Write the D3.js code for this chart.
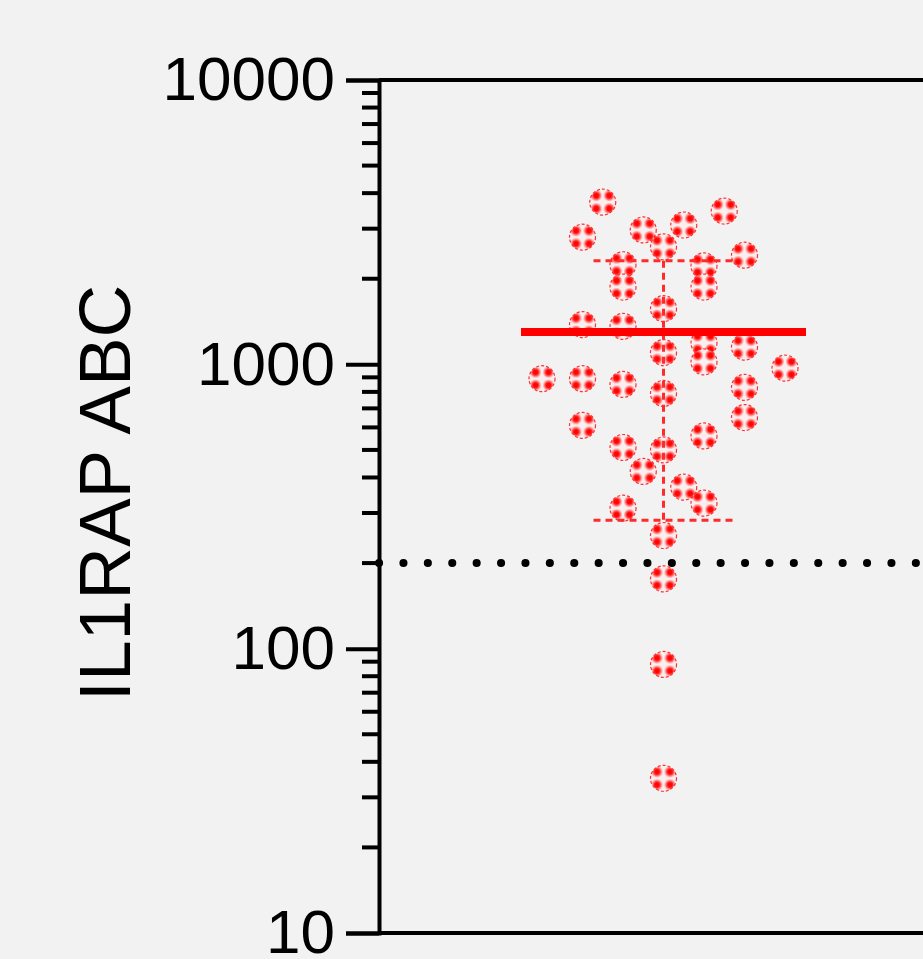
<!DOCTYPE html>
<html>
<head>
<meta charset="utf-8">
<script src="https://cdn.jsdelivr.net/npm/d3@7"></script>
<style>
  html, body { margin: 0; padding: 0; background: #f2f2f2; overflow: hidden; }
  text { font-family: "Liberation Sans", Arial, sans-serif; }
</style>
</head>
<body>
<svg id="chart"></svg>
<script>
// data
var groups = ["IL1RAP ABC"];
var values = [3720, 3460, 2800, 2970, 3090, 2590, 2420, 2240, 2220, 1870,
              1870, 1570, 1380, 1360, 1100, 1190, 1020, 1150, 970, 890,
              890, 850, 790, 830, 650, 610, 560, 510, 500, 420,
              370, 325, 312, 250, 176, 88, 35];
// horizontal scatter slot of each point (half-column units)
var jitter = [-3, 3, -4, -1, 1, 0, 4, -2, 2, -2,
              2, 0, -4, -2, 0, 2, 2, 4, 6, -6,
              -4, -2, 0, 4, 4, -4, 2, -2, 0, -1,
              1, 2, -2, 0, 0, 0, 0];
var tickValues = [10, 100, 1000, 10000];
var cutoff = 200;
var yLabel = "IL1RAP ABC";

function init() {
    var w = 923;
    var h = 959;

    var svg = d3.select("#chart")
        .attr("width", w)
        .attr("height", h);

    var left = 379, top = 80, bottom = 933, right = 1000;

    var y = d3.scaleLog()
        .domain([10, 10000])
        .range([bottom, top]);

    var x = d3.scaleBand()
        .domain(groups)
        .range([left + 40, 908]);

    var xc = x(groups[0]) + x.bandwidth() / 2;

    // one jitter unit = half a column step
    var jx = d3.scaleLinear()
        .domain([-1, 1])
        .range([xc - 20.25, xc + 20.25]);

    // point fill: pale disc with four soft red spots
    var defs = svg.append("defs");
    var blob = defs.append("radialGradient").attr("id", "blob");
    blob.append("stop").attr("offset", "0%").attr("stop-color", "#ff0000");
    blob.append("stop").attr("offset", "40%").attr("stop-color", "#ff0a0a");
    blob.append("stop").attr("offset", "75%").attr("stop-color", "#ff9090");
    blob.append("stop").attr("offset", "100%").attr("stop-color", "#fbeeee");

    var pat = defs.append("pattern")
        .attr("id", "dotfill")
        .attr("patternUnits", "objectBoundingBox")
        .attr("patternContentUnits", "objectBoundingBox")
        .attr("width", 0.5)
        .attr("height", 0.5);
    pat.append("rect").attr("width", 0.5).attr("height", 0.5).attr("fill", "#fbeeee");
    pat.append("circle").attr("cx", 0.25).attr("cy", 0.25).attr("r", 0.23)
        .attr("fill", "url(#blob)");

    // frame lines
    svg.append("line")
        .attr("x1", left).attr("x2", right)
        .attr("y1", top).attr("y2", top)
        .attr("stroke", "#000").attr("stroke-width", 4);
    svg.append("line")
        .attr("x1", left).attr("x2", right)
        .attr("y1", bottom).attr("y2", bottom)
        .attr("stroke", "#000").attr("stroke-width", 4);

    // y axis with major and minor ticks
    var minor = [];
    for (var k = 1; k < 4; k++) {
        for (var m = 2; m < 10; m++) minor.push(m * Math.pow(10, k));
    }

    var yAxis = d3.axisLeft(y)
        .tickValues(tickValues)
        .tickFormat(d3.format("d"))
        .tickSize(33)
        .tickPadding(11);

    var gy = svg.append("g")
        .attr("transform", "translate(" + left + ",0)")
        .call(yAxis);
    gy.select(".domain").attr("stroke-width", 4);
    gy.selectAll(".tick line").attr("stroke-width", 4);
    gy.selectAll(".tick text")
        .attr("font-size", 62)
        .attr("font-family", "Liberation Sans, Arial, sans-serif")
        .attr("fill", "#000");

    svg.append("g")
        .selectAll("line")
        .data(minor)
        .enter()
        .append("line")
        .attr("x1", left - 17).attr("x2", left)
        .attr("y1", function(d){ return y(d); })
        .attr("y2", function(d){ return y(d); })
        .attr("stroke", "#000").attr("stroke-width", 4);

    svg.append("text")
        .attr("transform", "translate(130,493) rotate(-90)")
        .attr("text-anchor", "middle")
        .attr("font-size", 73)
        .attr("fill", "#000")
        .text(yLabel);

    // cutoff dotted line
    svg.append("line")
        .attr("x1", left).attr("x2", right)
        .attr("y1", y(cutoff)).attr("y2", y(cutoff))
        .attr("stroke", "#000")
        .attr("stroke-width", 8)
        .attr("stroke-linecap", "round")
        .attr("stroke-dasharray", "0.1 24.3");

    // points
    var pts = values.map(function(v, i){ return {v: v, j: jitter[i]}; });
    svg.append("g")
        .selectAll("circle")
        .data(pts)
        .enter()
        .append("circle")
        .attr("cx", function(d){ return jx(d.j); })
        .attr("cy", function(d){ return y(d.v); })
        .attr("r", 13)
        .attr("fill", "url(#dotfill)")
        .attr("stroke", "#ff3030")
        .attr("stroke-width", 1.2)
        .attr("stroke-dasharray", "3 2");

    // mean and SD
    var mean = d3.mean(values);
    var sd = d3.deviation(values);
    var lo = mean - sd, hi = mean + sd;

    var err = svg.append("g")
        .attr("stroke", "#ff2a2a")
        .attr("stroke-width", 3)
        .attr("stroke-dasharray", "7 5");
    err.append("line")
        .attr("x1", xc).attr("x2", xc)
        .attr("y1", y(hi)).attr("y2", y(lo));
    [lo, hi].forEach(function(v){
        err.append("line")
            .attr("x1", xc - 70).attr("x2", xc + 70)
            .attr("y1", y(v)).attr("y2", y(v));
    });

    svg.append("line")
        .attr("x1", xc - 142.5).attr("x2", xc + 142.5)
        .attr("y1", y(mean)).attr("y2", y(mean))
        .attr("stroke", "#ff0000")
        .attr("stroke-width", 8);
}

window.onload = init;
</script>
</body>
</html>
